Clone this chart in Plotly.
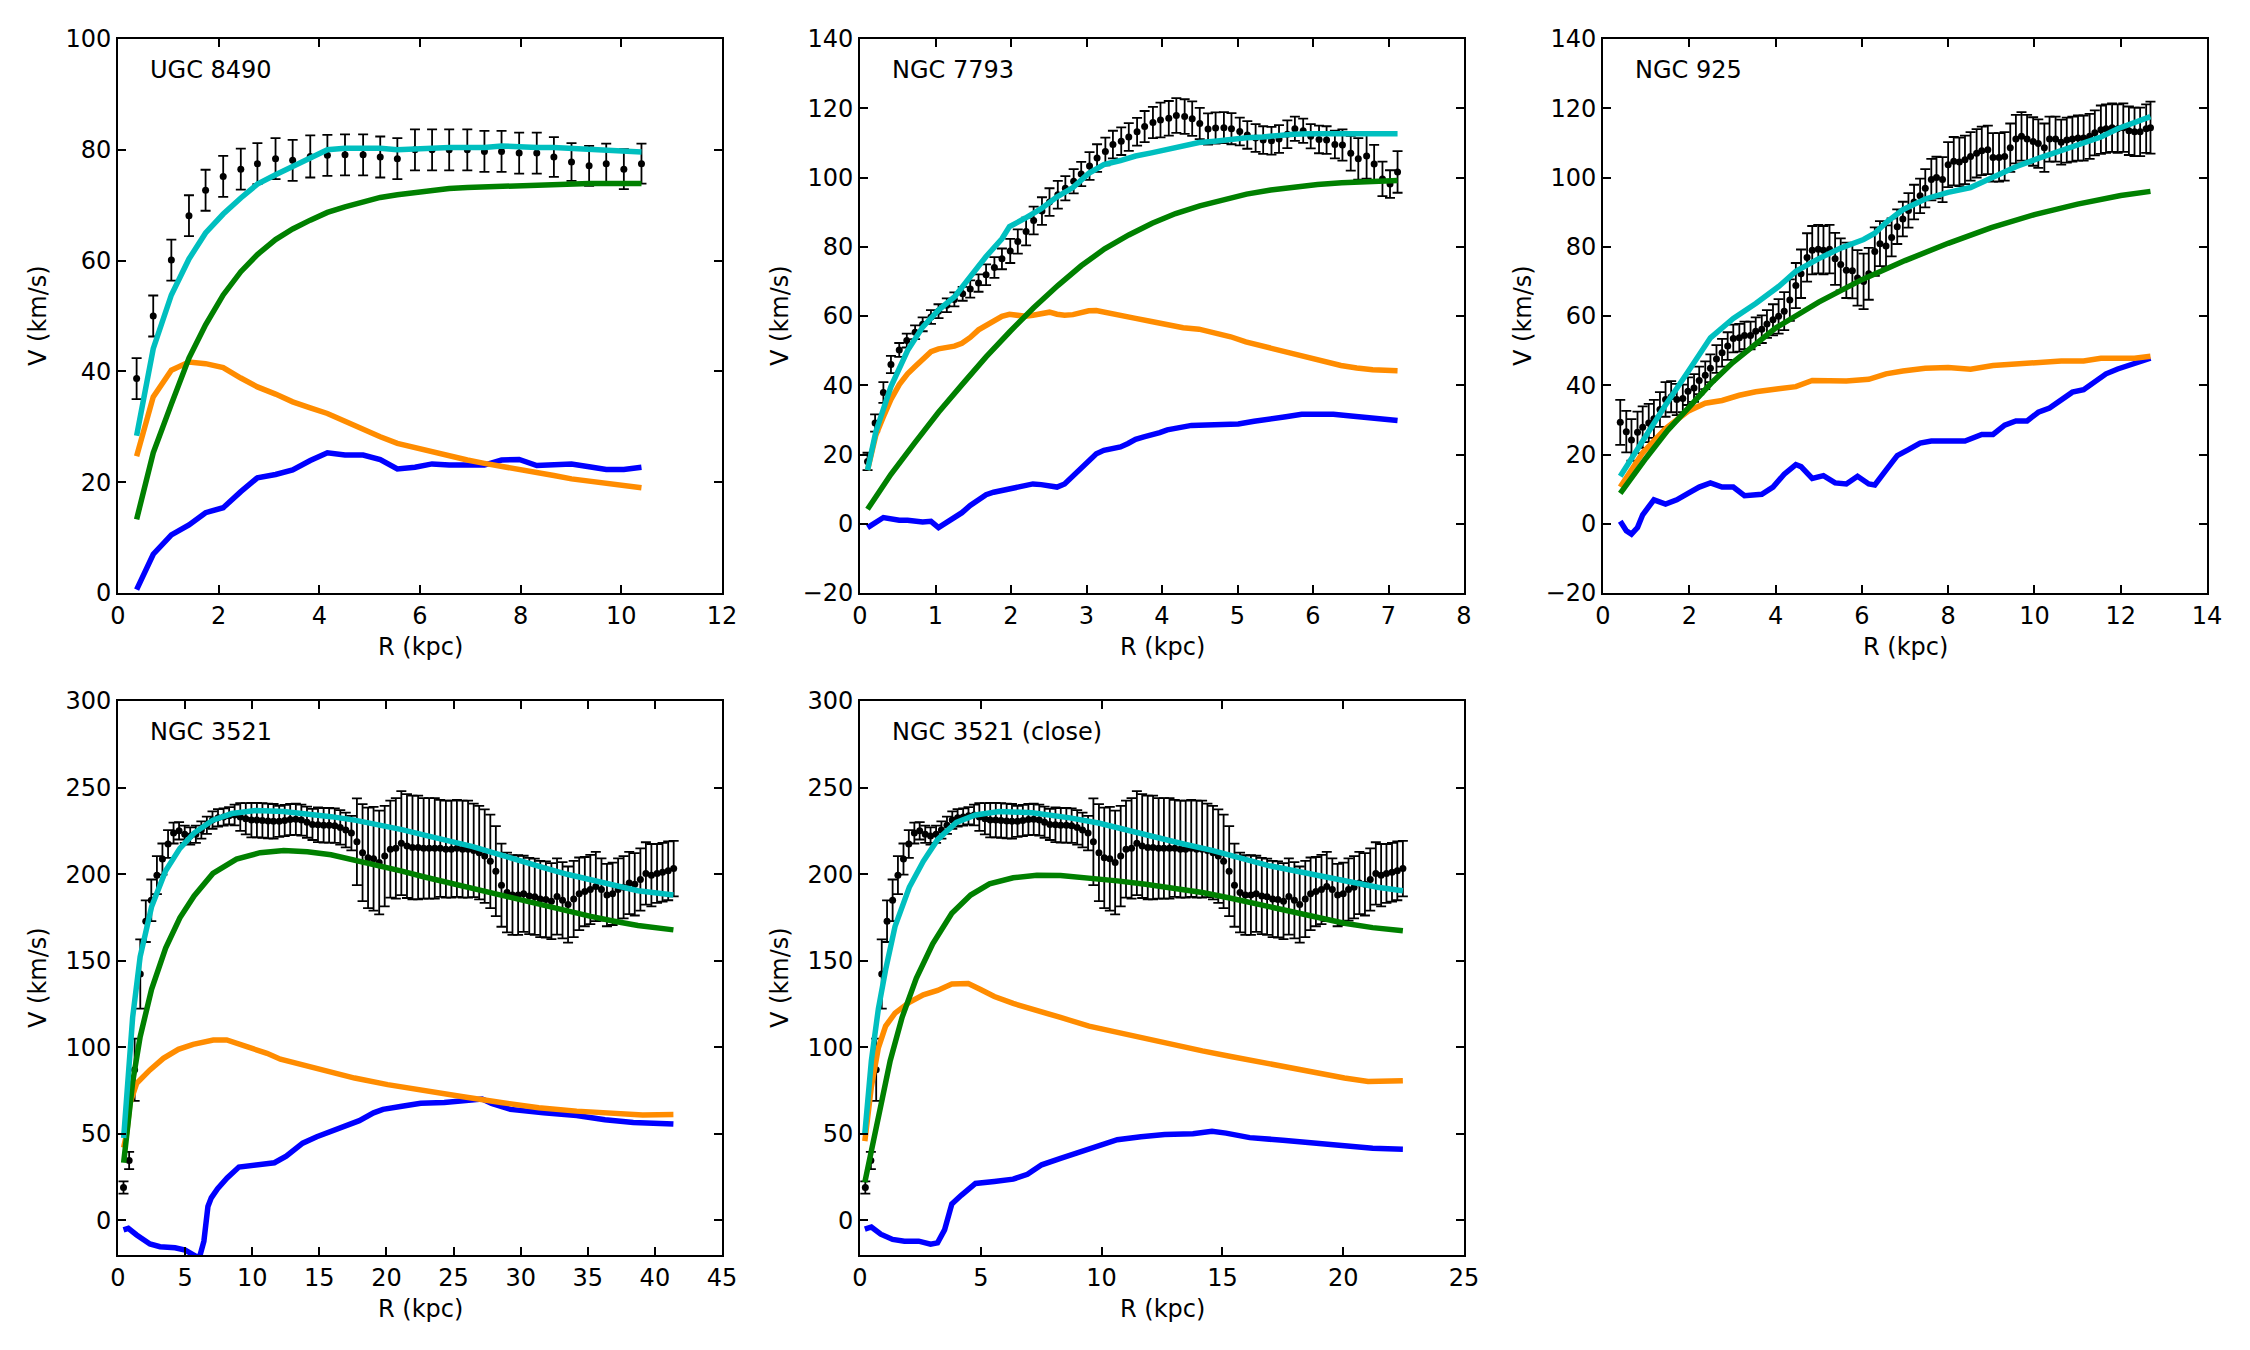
import plotly.graph_objects as go

# ---------------- UGC 8490 ----------------
R1 = [0.37, 0.70, 1.06, 1.41, 1.74, 2.09, 2.44, 2.77, 3.13, 3.47, 3.82, 4.16, 4.51, 4.87, 5.21,
      5.55, 5.90, 6.24, 6.58, 6.94, 7.28, 7.62, 7.97, 8.32, 8.66, 9.01, 9.36, 9.70, 10.05, 10.40]
V1 = [38.7, 50.0, 60.1, 68.1, 72.7, 75.2, 76.5, 77.5, 78.4, 78.1, 78.8, 79.0, 79.1, 79.1, 78.7,
      78.4, 80.0, 80.0, 80.0, 80.0, 79.7, 79.7, 79.4, 79.4, 78.7, 77.8, 77.1, 77.5, 76.5, 77.5]
E1 = [3.7, 3.7, 3.7, 3.7, 3.7, 3.7, 3.7, 3.7, 3.7, 3.7, 3.8, 3.7, 3.7, 3.7, 3.7,
      3.7, 3.7, 3.7, 3.7, 3.7, 3.7, 3.7, 3.7, 3.7, 3.6, 3.4, 3.6, 3.6, 3.6, 3.6]
TOT1 = [28.4, 44.1, 53.8, 60.3, 65.0, 68.4, 71.3, 73.8, 75.5, 76.9, 78.4, 80.0, 80.3, 80.4, 80.3,
        80.0, 80.2, 80.4, 80.4, 80.4, 80.4, 80.7, 80.5, 80.4, 80.4, 80.2, 80.0, 79.8, 79.6, 79.6]
HALO1 = [13.3, 25.3, 34.1, 42.4, 48.4, 53.8, 58.0, 61.1, 63.8, 65.7, 67.3, 68.7, 69.7, 70.7, 71.4,
         71.9, 72.3, 72.6, 73.0, 73.2, 73.3, 73.5, 73.7, 73.7, 73.8, 73.8, 73.9, 73.9, 73.9, 73.9]
DISK1 = [24.7, 35.4, 40.2, 41.7, 41.4, 40.7, 38.8, 37.2, 35.9, 34.5, 33.4, 32.4, 31.0, 29.5, 28.2,
         27.0, 26.2, 25.4, 24.7, 24.0, 23.4, 22.8, 22.2, 21.6, 21.2, 20.6, 20.2, 19.7, 19.3, 19.0]
GAS1 = [0.6, 7.0, 10.5, 12.3, 14.5, 15.4, 18.3, 20.8, 21.4, 22.2, 23.9, 25.3, 24.9, 24.9, 24.1,
        22.4, 22.7, 23.3, 23.1, 23.1, 23.1, 24.0, 24.1, 23.0, 23.1, 23.3, 22.8, 22.3, 22.3, 22.7]

# ---------------- NGC 7793 ----------------
R2 = [0.10, 0.20, 0.31, 0.41, 0.52, 0.62, 0.73, 0.83, 0.94, 1.04,
      1.15, 1.25, 1.36, 1.46, 1.57, 1.67, 1.78, 1.88, 1.99, 2.09,
      2.20, 2.30, 2.41, 2.51, 2.62, 2.72, 2.83, 2.93, 3.04, 3.14,
      3.25, 3.35, 3.46, 3.56, 3.67, 3.77, 3.88, 3.98, 4.09, 4.19,
      4.30, 4.40, 4.50, 4.61, 4.71, 4.82, 4.92, 5.03, 5.13, 5.24,
      5.34, 5.45, 5.55, 5.66, 5.76, 5.87, 5.97, 6.08, 6.18, 6.29,
      6.39, 6.50, 6.60, 6.71, 6.81, 6.92, 7.02, 7.12]
V2 = [18.0, 29.1, 37.9, 46.0, 50.2, 52.9, 55.3, 57.6, 59.7, 61.4,
      63.1, 64.8, 66.4, 67.8, 69.5, 71.9, 74.0, 76.5, 78.8, 81.5,
      84.4, 87.6, 90.3, 92.9, 95.0, 96.9, 98.9, 101.0, 103.3, 105.6,
      107.5, 109.5, 110.5, 111.7, 113.2, 114.7, 115.9, 116.6, 117.1, 117.9,
      117.6, 117.0, 115.6, 114.0, 114.3, 114.4, 114.1, 113.3, 112.3, 111.4,
      110.8, 110.6, 111.1, 112.5, 114.1, 113.5, 111.9, 111.0, 110.8, 109.5,
      109.4, 107.0, 105.4, 106.2, 103.9, 99.6, 98.1, 101.6]
E2 = [2.5, 2.5, 3.0, 2.5, 2.0, 2.0, 2.0, 2.0, 2.0, 2.0,
      2.0, 2.0, 2.0, 2.5, 2.5, 3.0, 3.0, 3.0, 3.5, 3.5,
      4.0, 4.0, 4.0, 4.0, 4.0, 3.5, 3.5, 3.5, 4.0, 4.0,
      4.0, 4.0, 4.0, 4.0, 4.0, 4.5, 4.5, 5.0, 5.0, 5.0,
      5.0, 5.0, 4.5, 4.5, 4.5, 4.5, 4.5, 4.0, 4.0, 4.0,
      4.0, 4.0, 4.0, 4.0, 3.5, 3.5, 3.5, 4.0, 4.0, 4.0,
      4.5, 5.0, 6.0, 6.5, 5.5, 5.0, 4.0, 6.0]
R2_TOT = [0.10, 0.21, 0.41, 0.63, 0.83, 1.04, 1.25, 1.46, 1.67, 1.88, 1.98, 2.19, 2.40, 2.61, 2.82,
          3.03, 3.23, 3.45, 3.65, 3.86, 4.07, 4.28, 4.49, 4.70, 4.91, 5.12, 5.33, 5.53, 5.74, 5.95,
          6.16, 6.37, 6.58, 6.79, 7.12]
TOT2 = [15.5, 26.6, 39.6, 50.0, 56.8, 61.7, 65.5, 71.6, 77.2, 82.3, 85.8, 88.3, 91.0, 94.4, 97.1,
        101.2, 103.7, 104.9, 106.2, 107.1, 108.0, 108.8, 110.1, 110.5, 111.1, 111.5, 111.7, 112.2, 112.5, 112.6,
        112.6, 112.6, 112.6, 112.6, 112.6]
R2_HALO = [0.10, 0.41, 0.73, 1.04, 1.36, 1.67, 1.99, 2.30, 2.62, 2.93, 3.24, 3.56, 3.87, 4.18, 4.50,
           4.81, 5.12, 5.44, 5.75, 6.06, 6.38, 6.69, 7.12]
HALO2 = [4.2, 14.3, 23.5, 32.2, 40.4, 48.2, 55.6, 62.4, 68.8, 74.5, 79.4, 83.4, 86.8, 89.6, 91.8,
         93.7, 95.2, 96.4, 97.3, 98.0, 98.5, 98.9, 99.1]
R2_DISK = [0.10, 0.21, 0.31, 0.41, 0.52, 0.63, 0.73, 0.83, 0.94, 1.04, 1.15, 1.25, 1.35, 1.46, 1.57,
           1.67, 1.77, 1.88, 1.98, 2.09, 2.19, 2.29, 2.40, 2.51, 2.61, 2.71, 2.82, 2.92, 3.03, 3.13,
           3.23, 3.34, 3.45, 3.65, 3.86, 4.07, 4.28, 4.49, 4.70, 4.91, 5.11, 5.33, 5.53, 5.74, 5.95,
           6.16, 6.37, 6.58, 6.79, 7.12]
DISK2 = [15.5, 25.6, 30.9, 35.9, 40.2, 43.3, 45.4, 47.6, 49.7, 50.5, 50.9, 51.3, 52.1, 53.8, 56.0,
         57.4, 58.7, 59.9, 60.5, 60.3, 59.9, 60.2, 60.7, 61.1, 60.5, 60.2, 60.4, 61.0, 61.5, 61.6,
         61.1, 60.5, 60.0, 59.3, 58.4, 57.4, 56.6, 56.2, 55.2, 54.0, 52.5, 51.3, 50.0, 48.8, 47.6,
         46.6, 45.7, 45.0, 44.5, 44.2]
R2_GAS = [0.10, 0.31, 0.52, 0.63, 0.83, 0.94, 1.04, 1.15, 1.25, 1.35, 1.46, 1.57, 1.67, 1.77, 1.88,
          1.98, 2.09, 2.19, 2.29, 2.40, 2.51, 2.61, 2.71, 2.82, 2.92, 3.03, 3.13, 3.23, 3.34, 3.45,
          3.55, 3.65, 3.76, 3.86, 3.97, 4.07, 4.17, 4.28, 4.39, 4.59, 4.80, 5.01, 5.22, 5.43, 5.64,
          5.85, 6.05, 6.27, 6.47, 6.68, 6.89, 7.12]
GAS2 = [-1.1, 1.8, 1.0, 1.0, 0.5, 0.7, -1.1, 0.5, 1.5, 3.2, 5.3, 7.1, 8.4, 9.1, 9.6,
        10.2, 10.8, 11.3, 11.5, 11.3, 10.8, 10.6, 11.5, 13.7, 16.1, 18.4, 20.2, 21.2, 21.6, 22.2,
        23.2, 24.4, 25.1, 25.6, 26.3, 27.1, 27.6, 28.1, 28.4, 28.5, 28.5, 28.8, 29.6, 30.1, 30.9,
        31.6, 31.7, 31.6, 31.2, 30.7, 30.3, 29.8]

# ---------------- NGC 925 ----------------
R3 = [0.40, 0.54, 0.66, 0.80, 0.92, 1.06, 1.18, 1.32, 1.45, 1.58,
      1.71, 1.85, 1.97, 2.11, 2.23, 2.37, 2.49, 2.63, 2.76, 2.89,
      3.02, 3.16, 3.28, 3.42, 3.54, 3.68, 3.80, 3.94, 4.07, 4.20,
      4.33, 4.47, 4.59, 4.73, 4.85, 4.99, 5.11, 5.25, 5.38, 5.51,
      5.64, 5.78, 5.90, 6.04, 6.16, 6.30, 6.42, 6.56, 6.69, 6.82,
      6.95, 7.08, 7.21, 7.35, 7.47, 7.61, 7.73, 7.87, 8.00, 8.13,
      8.26, 8.39, 8.52, 8.66, 8.78, 8.92, 9.04, 9.18, 9.31, 9.44,
      9.57, 9.70, 9.83, 9.97, 10.09, 10.23, 10.35, 10.49, 10.62, 10.75,
      10.88, 11.01, 11.14, 11.28, 11.40, 11.54, 11.66, 11.80, 11.93, 12.06,
      12.19, 12.32, 12.45, 12.59, 12.69]
V3 = [29.3, 26.6, 24.2, 26.4, 27.9, 29.1, 30.3, 33.0, 35.9, 36.7,
      35.9, 36.2, 38.3, 39.2, 41.4, 42.9, 44.9, 47.6, 49.4, 51.3,
      53.5, 53.7, 54.4, 54.4, 55.6, 56.2, 57.7, 58.9, 59.9, 61.4,
      64.6, 68.8, 72.2, 76.9, 79.0, 79.3, 79.0, 79.3, 76.5, 74.9,
      73.2, 73.1, 71.0, 70.0, 72.2, 78.6, 80.9, 80.2, 82.7, 85.8,
      88.0, 90.5, 92.9, 94.7, 96.9, 99.4, 100.0, 99.4, 103.7, 104.7,
      104.5, 105.1, 106.1, 107.0, 107.7, 108.0, 105.8, 105.8, 106.1, 108.6,
      111.1, 111.9, 111.1, 110.4, 109.8, 108.6, 111.1, 111.1, 110.2, 110.8,
      111.1, 111.4, 111.4, 111.9, 112.9, 113.8, 114.1, 114.4, 114.1, 114.4,
      113.5, 113.2, 113.2, 114.1, 114.4]
E3 = [6.5, 6.0, 6.0, 6.0, 6.0, 5.5, 5.5, 5.0, 5.0, 4.5,
      4.5, 4.0, 4.0, 4.0, 4.0, 4.0, 4.0, 4.0, 4.0, 4.0,
      4.0, 4.0, 4.0, 4.0, 4.0, 4.0, 4.0, 4.5, 5.0, 5.5,
      6.0, 6.5, 7.0, 7.0, 7.0, 7.0, 7.0, 7.0, 7.5, 7.5,
      8.0, 8.0, 8.0, 8.0, 7.5, 7.0, 6.5, 6.0, 5.5, 5.0,
      5.0, 5.0, 5.0, 5.0, 5.5, 6.0, 6.0, 6.5, 6.5, 7.0,
      7.0, 7.0, 7.0, 7.0, 7.0, 7.0, 7.0, 7.0, 7.0, 7.0,
      7.0, 7.0, 7.0, 7.0, 7.0, 7.0, 6.5, 6.5, 6.5, 6.5,
      6.5, 6.5, 6.5, 6.5, 6.5, 7.0, 7.0, 7.0, 7.0, 7.0,
      7.0, 7.0, 7.0, 7.0, 7.5]
R3_TOT = [0.40, 0.92, 1.45, 1.97, 2.49, 3.02, 3.54, 4.07, 4.47, 4.99, 5.51, 6.04, 6.30, 6.56, 6.95,
          7.47, 8.00, 8.52, 9.04, 9.57, 10.09, 10.62, 11.14, 11.54, 11.93, 12.32, 12.69]
TOT3 = [13.7, 24.2, 34.3, 43.9, 53.7, 59.3, 63.6, 68.5, 72.9, 76.5, 79.6, 82.1, 83.9, 87.0, 90.7,
        93.8, 95.7, 97.1, 100.0, 103.1, 105.5, 107.7, 109.8, 111.7, 114.1, 116.0, 117.6]
R3_HALO = [0.40, 0.70, 1.00, 1.50, 2.00, 2.50, 3.00, 4.00, 5.00, 6.00, 7.00, 8.00, 9.00, 10.00,
           11.00, 12.00, 12.69]
HALO3 = [8.8, 14.0, 19.0, 27.0, 34.0, 40.5, 46.5, 56.5, 64.0, 70.5, 76.0, 81.0, 85.5, 89.3,
         92.3, 94.8, 96.0]
R3_DISK = [0.40, 0.92, 1.45, 1.97, 2.37, 2.76, 3.16, 3.54, 4.07, 4.47, 4.85, 5.25, 5.64, 6.16,
           6.56, 6.95, 7.47, 8.00, 8.52, 9.04, 9.57, 10.09, 10.62, 11.14, 11.54, 11.93, 12.32, 12.69]
DISK3 = [10.6, 20.5, 27.5, 32.5, 34.8, 35.6, 37.1, 38.1, 39.0, 39.6, 41.4, 41.4, 41.2, 41.7,
         43.3, 44.1, 44.9, 45.1, 44.6, 45.7, 46.1, 46.7, 47.0, 47.0, 47.8, 47.8, 47.8, 48.4]
R3_GAS = [0.40, 0.54, 0.66, 0.80, 0.92, 1.18, 1.45, 1.71, 1.97, 2.23, 2.49, 2.76, 3.02, 3.28,
          3.68, 3.94, 4.20, 4.47, 4.59, 4.85, 5.11, 5.38, 5.64, 5.90, 6.16, 6.30, 6.56, 6.82,
          7.08, 7.35, 7.61, 8.00, 8.39, 8.78, 9.04, 9.31, 9.57, 9.83, 10.09, 10.35, 10.62, 10.88,
          11.14, 11.40, 11.66, 11.93, 12.19, 12.45, 12.69]
GAS3 = [0.7, -2.0, -3.0, -1.1, 2.6, 6.9, 5.7, 6.9, 8.8, 10.6, 11.8, 10.6, 10.6, 8.1,
        8.5, 10.6, 14.3, 17.1, 16.5, 13.1, 13.9, 11.8, 11.5, 13.7, 11.5, 11.2, 15.5, 19.7,
        21.4, 23.3, 23.9, 23.8, 23.9, 25.8, 25.8, 28.5, 29.7, 29.7, 32.2, 33.4, 35.9, 38.0,
        38.7, 40.8, 43.3, 44.7, 45.7, 46.6, 47.8]

# ---------------- NGC 3521 (shared velocities, two distances) ----------------
V_3521 = [19.0, 34.6, 87.0, 142.3, 172.8, 184.9, 199.4, 208.7, 217.4, 223.7,
          225.0, 223.0, 222.0, 223.0, 225.5, 228.2, 231.2, 232.5, 233.0, 233.7,
          234.2, 233.0, 232.0, 231.2, 231.2, 231.0, 230.7, 230.5, 230.5, 231.0,
          231.5, 231.7, 231.2, 230.0, 228.7, 228.5, 228.2, 228.2, 228.0, 227.0,
          225.5, 223.7, 218.7, 212.4, 209.4, 208.9, 206.7, 210.4, 214.4, 214.9,
          217.9, 216.2, 215.4, 215.4, 214.9, 214.9, 214.9, 214.9, 214.4, 214.4,
          214.9, 214.4, 214.4, 213.7, 212.4, 210.4, 207.4, 201.7, 193.6, 189.4,
          187.9, 187.9, 188.6, 187.4, 186.9, 185.6, 185.4, 184.4, 187.1, 184.9,
          182.4, 185.6, 188.6, 189.9, 191.1, 192.9, 191.1, 187.9, 188.6, 191.1,
          192.4, 194.9, 194.1, 196.9, 200.4, 199.4, 200.4, 201.1, 201.9, 203.2]
E_3521 = [3.5, 5, 18, 20, 12, 12, 11, 9, 8, 6,
          5, 5, 5, 5, 5, 5, 5, 5, 5, 5,
          6, 8, 9, 10, 10, 10, 10, 10, 9, 9,
          9, 9, 9, 9, 9, 10, 10, 10, 10, 10,
          10, 10, 25, 28, 29, 30, 30, 29, 28, 29,
          30, 30, 30, 30, 29, 29, 29, 28, 28, 28,
          28, 28, 28, 27, 27, 27, 27, 26, 24, 23,
          23, 23, 22, 22, 22, 22, 22, 22, 22, 22,
          22, 22, 21, 20, 20, 20, 18, 18, 18, 18,
          18, 18, 18, 18, 18, 18, 17, 17, 17, 16]
R4 = [0.41, 0.83, 1.24, 1.66, 2.07, 2.48, 2.90, 3.31, 3.73, 4.14,
      4.55, 4.97, 5.38, 5.80, 6.21, 6.62, 7.04, 7.45, 7.87, 8.28,
      8.69, 9.11, 9.52, 9.94, 10.35, 10.76, 11.18, 11.59, 12.01, 12.42,
      12.83, 13.25, 13.66, 14.08, 14.49, 14.90, 15.32, 15.73, 16.15, 16.56,
      16.97, 17.39, 17.80, 18.22, 18.63, 19.04, 19.46, 19.87, 20.29, 20.70,
      21.11, 21.53, 21.94, 22.36, 22.77, 23.18, 23.60, 24.01, 24.43, 24.84,
      25.25, 25.67, 26.08, 26.50, 26.91, 27.32, 27.74, 28.15, 28.57, 28.98,
      29.39, 29.81, 30.22, 30.64, 31.05, 31.46, 31.88, 32.29, 32.71, 33.12,
      33.53, 33.95, 34.36, 34.78, 35.19, 35.60, 36.02, 36.43, 36.85, 37.26,
      37.67, 38.09, 38.50, 38.92, 39.33, 39.74, 40.16, 40.57, 40.99, 41.40]
R4_TOT = [0.42, 0.74, 1.09, 1.65, 2.50, 3.55, 4.61, 5.67, 7.07, 8.48, 10.24, 12.35, 14.11, 15.87,
          17.63, 19.39, 21.15, 22.91, 24.67, 26.43, 28.18, 29.94, 31.70, 33.46, 35.22, 36.98, 38.74, 41.38]
TOT4 = [47.6, 82.2, 117.2, 152.3, 181.1, 201.9, 214.9, 223.7, 231.2, 235.0, 236.7, 236.2, 235.0, 233.2,
        231.2, 228.7, 225.7, 222.4, 219.2, 215.9, 211.9, 207.4, 203.7, 199.9, 196.6, 193.1, 190.4, 187.9]
R4_HALO = [0.42, 0.74, 1.09, 1.65, 2.50, 3.55, 4.61, 5.67, 7.07, 8.83, 10.59, 12.35, 14.11, 15.87,
           17.63, 19.39, 21.15, 22.91, 24.67, 26.43, 28.18, 29.94, 31.70, 33.46, 35.22, 36.98, 38.74, 41.38]
HALO4 = [33.3, 57.1, 79.7, 106.0, 133.5, 157.3, 174.8, 187.4, 200.4, 208.7, 212.4, 213.7, 212.9, 211.2,
         208.2, 204.9, 201.7, 198.2, 194.9, 191.6, 188.1, 184.9, 181.6, 178.6, 175.6, 172.8, 170.3, 167.8]
R4_DISK = [0.42, 0.65, 0.89, 1.39, 2.38, 3.38, 4.50, 5.60, 7.10, 8.10, 9.60, 11.10, 12.10, 15.17,
           17.63, 20.09, 22.91, 25.72, 28.54, 31.35, 34.17, 36.98, 39.09, 41.38]
DISK4 = [42.0, 50.3, 67.6, 79.2, 86.9, 93.6, 98.8, 101.7, 104.2, 104.2, 100.3, 96.5, 93.1, 86.7,
         82.2, 78.4, 74.6, 71.4, 68.1, 65.1, 63.1, 61.6, 60.9, 61.1]
R4_GAS = [0.41, 0.77, 1.39, 2.38, 3.13, 4.25, 5.00, 5.50, 5.84, 6.10, 6.40, 6.70, 6.95, 7.42, 8.13,
          9.01, 10.24, 11.65, 12.53, 13.76, 14.81, 16.22, 17.98, 19.04, 19.74, 21.15, 22.55, 24.31,
          26.07, 27.13, 27.83, 29.24, 31.70, 34.17, 36.28, 38.39, 41.38]
GAS4 = [-5.5, -4.6, -8.4, -13.6, -15.2, -15.8, -17.1, -19.5, -21.0, -20.5, -12.0, 8.0, 13.0, 18.3, 24.5,
        30.8, 31.6, 33.3, 37.1, 44.6, 48.3, 52.1, 57.6, 62.1, 64.1, 65.9, 67.6, 68.1,
        69.6, 70.1, 67.6, 64.1, 62.1, 60.6, 58.1, 56.6, 55.6]

R5 = [0.22, 0.45, 0.67, 0.90, 1.12, 1.35, 1.57, 1.80, 2.02, 2.25,
      2.47, 2.70, 2.92, 3.15, 3.37, 3.60, 3.82, 4.04, 4.27, 4.49,
      4.72, 4.94, 5.17, 5.39, 5.62, 5.84, 6.07, 6.29, 6.52, 6.74,
      6.97, 7.19, 7.42, 7.64, 7.86, 8.09, 8.31, 8.54, 8.76, 8.99,
      9.21, 9.44, 9.66, 9.89, 10.11, 10.34, 10.56, 10.79, 11.01, 11.24,
      11.46, 11.68, 11.91, 12.13, 12.36, 12.58, 12.81, 13.03, 13.26, 13.48,
      13.71, 13.93, 14.16, 14.38, 14.61, 14.83, 15.05, 15.28, 15.50, 15.73,
      15.95, 16.18, 16.40, 16.63, 16.85, 17.08, 17.30, 17.53, 17.75, 17.98,
      18.20, 18.43, 18.65, 18.87, 19.10, 19.32, 19.55, 19.77, 20.00, 20.22,
      20.45, 20.67, 20.90, 21.12, 21.35, 21.57, 21.79, 22.02, 22.24, 22.47]
R5_TOT = [0.20, 0.47, 0.76, 1.06, 1.45, 2.04, 2.62, 3.21, 3.99, 4.78, 5.76, 7.13, 8.69, 9.87, 11.04,
          12.22, 13.39, 14.57, 15.74, 16.91, 18.09, 19.26, 20.44, 21.42, 22.47]
TOT5 = [50.1, 92.2, 122.2, 144.8, 169.8, 192.4, 207.4, 219.9, 229.9, 234.2, 236.2, 235.5, 232.5, 229.5, 225.5,
        221.2, 217.4, 213.7, 209.4, 204.9, 201.7, 198.6, 194.9, 192.4, 190.4]
R5_HALO = [0.20, 0.47, 0.86, 1.25, 1.74, 2.33, 3.01, 3.80, 4.58, 5.36, 6.34, 7.32, 8.30, 9.48, 10.65,
           11.82, 13.00, 14.17, 15.35, 16.52, 17.70, 18.87, 20.05, 21.22, 22.47]
HALO5 = [22.0, 39.6, 67.1, 92.2, 117.2, 139.8, 159.8, 177.4, 187.9, 194.4, 197.9, 199.4, 199.2, 197.9, 196.1,
         194.1, 191.9, 189.4, 186.1, 182.4, 178.6, 174.8, 171.6, 169.1, 167.3]
R5_DISK = [0.20, 0.47, 0.76, 1.06, 1.45, 2.04, 2.62, 3.21, 3.80, 4.48, 4.97, 5.56, 6.34, 7.13, 8.30,
           9.48, 10.65, 11.82, 13.00, 14.17, 15.35, 16.52, 17.70, 18.87, 20.05, 21.03, 22.47]
DISK5 = [45.8, 77.2, 99.7, 112.2, 119.7, 126.0, 130.3, 132.8, 136.5, 136.8, 133.5, 129.3, 125.3, 121.7, 117.2,
         112.2, 108.5, 104.7, 101.5, 97.9, 94.7, 91.4, 88.4, 85.2, 82.2, 80.2, 80.7]
R5_GAS = [0.20, 0.47, 0.86, 1.35, 1.84, 2.43, 2.92, 3.21, 3.50, 3.80, 4.19, 4.78, 5.56, 6.34, 6.93,
          7.52, 8.30, 9.08, 9.87, 10.65, 11.63, 12.61, 13.78, 14.57, 15.15, 16.13, 17.50, 18.87,
          20.05, 21.22, 22.47]
GAS5 = [-5.0, -3.8, -8.0, -11.0, -12.0, -12.0, -13.8, -13.0, -5.5, 9.5, 14.5, 21.3, 22.5, 23.8, 26.6,
        32.1, 35.8, 39.6, 42.8, 46.6, 48.3, 49.6, 50.1, 51.4, 50.4, 47.8, 46.3, 44.6,
        42.8, 41.6, 41.1]

NAMES = ["UGC 8490", "NGC 7793", "NGC 925", "NGC 3521", "NGC 3521 (close)"]
X_RANGES = [[0, 12], [0, 8], [0, 14], [0, 45], [0, 25]]
X_DTICK = [2, 1, 2, 5, 5]
Y_RANGES = [[0, 100], [-20, 140], [-20, 140], [-20, 300], [-20, 300]]
Y_DTICK = [20, 20, 20, 50, 50]

PANELS = [
    (R1, V1, E1, (R1, GAS1), (R1, DISK1), (R1, HALO1), (R1, TOT1)),
    (R2, V2, E2, (R2_GAS, GAS2), (R2_DISK, DISK2), (R2_HALO, HALO2), (R2_TOT, TOT2)),
    (R3, V3, E3, (R3_GAS, GAS3), (R3_DISK, DISK3), (R3_HALO, HALO3), (R3_TOT, TOT3)),
    (R4, V_3521, E_3521, (R4_GAS, GAS4), (R4_DISK, DISK4), (R4_HALO, HALO4), (R4_TOT, TOT4)),
    (R5, V_3521, E_3521, (R5_GAS, GAS5), (R5_DISK, DISK5), (R5_HALO, HALO5), (R5_TOT, TOT5)),
]

W, H = 2250, 1350
COLS = [(118, 722), (860, 1464), (1603, 2207)]
ROWS = [(39, 593), (701, 1255)]
POS = [(0, 0), (0, 1), (0, 2), (1, 0), (1, 1)]
COLORS = ["#0000FF", "#FF8C00", "#008000", "#00BFBF"]
FONT = "DejaVu Sans"

fig = go.Figure()
layout = dict(width=W, height=H, autosize=False, margin=dict(l=0, r=0, t=0, b=0, pad=0),
              paper_bgcolor="white", plot_bgcolor="white", showlegend=False)
annotations = []

for i, (r, v, e, gas, disk, halo, tot) in enumerate(PANELS):
    n = i + 1
    xa = "x" if n == 1 else f"x{n}"
    ya = "y" if n == 1 else f"y{n}"
    row, col = POS[i]
    x0, x1 = COLS[col]
    y0, y1 = ROWS[row]

    fig.add_trace(go.Scatter(
        x=r, y=v, mode="markers", xaxis=xa, yaxis=ya,
        marker=dict(color="black", size=7),
        error_y=dict(type="data", array=e, visible=True, color="black", thickness=1.8, width=5),
        cliponaxis=True))
    for (cx, cy), c in zip([gas, disk, halo, tot], COLORS):
        fig.add_trace(go.Scatter(x=cx, y=cy, mode="lines", xaxis=xa, yaxis=ya,
                                 line=dict(color=c, width=5.5)))

    common = dict(showline=True, linecolor="black", linewidth=2, mirror="ticks",
                  ticks="inside", ticklen=8, tickwidth=1.5, tickcolor="black",
                  showgrid=False, zeroline=False, automargin=False,
                  tickfont=dict(family=FONT, size=24, color="black"))
    layout["xaxis" if n == 1 else f"xaxis{n}"] = dict(
        common, domain=[x0 / W, x1 / W], range=X_RANGES[i], dtick=X_DTICK[i], tick0=0,
        anchor=ya)
    layout["yaxis" if n == 1 else f"yaxis{n}"] = dict(
        common, domain=[1 - y1 / H, 1 - y0 / H], range=Y_RANGES[i], dtick=Y_DTICK[i], tick0=0,
        anchor=xa)

    annotations.append(dict(text=NAMES[i], xref="paper", yref="paper",
                            x=(x0 + 30) / W, y=1 - (y0 + 31) / H, xanchor="left", yanchor="middle",
                            showarrow=False, font=dict(family=FONT, size=24, color="black")))
    annotations.append(dict(text="R (kpc)", xref="paper", yref="paper",
                            x=(x0 + x1) / 2 / W, y=1 - (y1 + 54) / H, xanchor="center",
                            yanchor="middle", showarrow=False,
                            font=dict(family=FONT, size=24, color="black")))
    annotations.append(dict(text="V (km/s)", xref="paper", yref="paper",
                            x=(x0 - 80) / W, y=1 - (y0 + y1) / 2 / H, xanchor="center",
                            yanchor="middle", textangle=-90, showarrow=False,
                            font=dict(family=FONT, size=24, color="black")))

layout["annotations"] = annotations
fig.update_layout(**layout)
fig.write_html("out.html", config={"responsive": False},
               post_script="document.body.style.margin='0px';document.body.style.padding='0px';"
                           "document.body.style.overflow='hidden';")
